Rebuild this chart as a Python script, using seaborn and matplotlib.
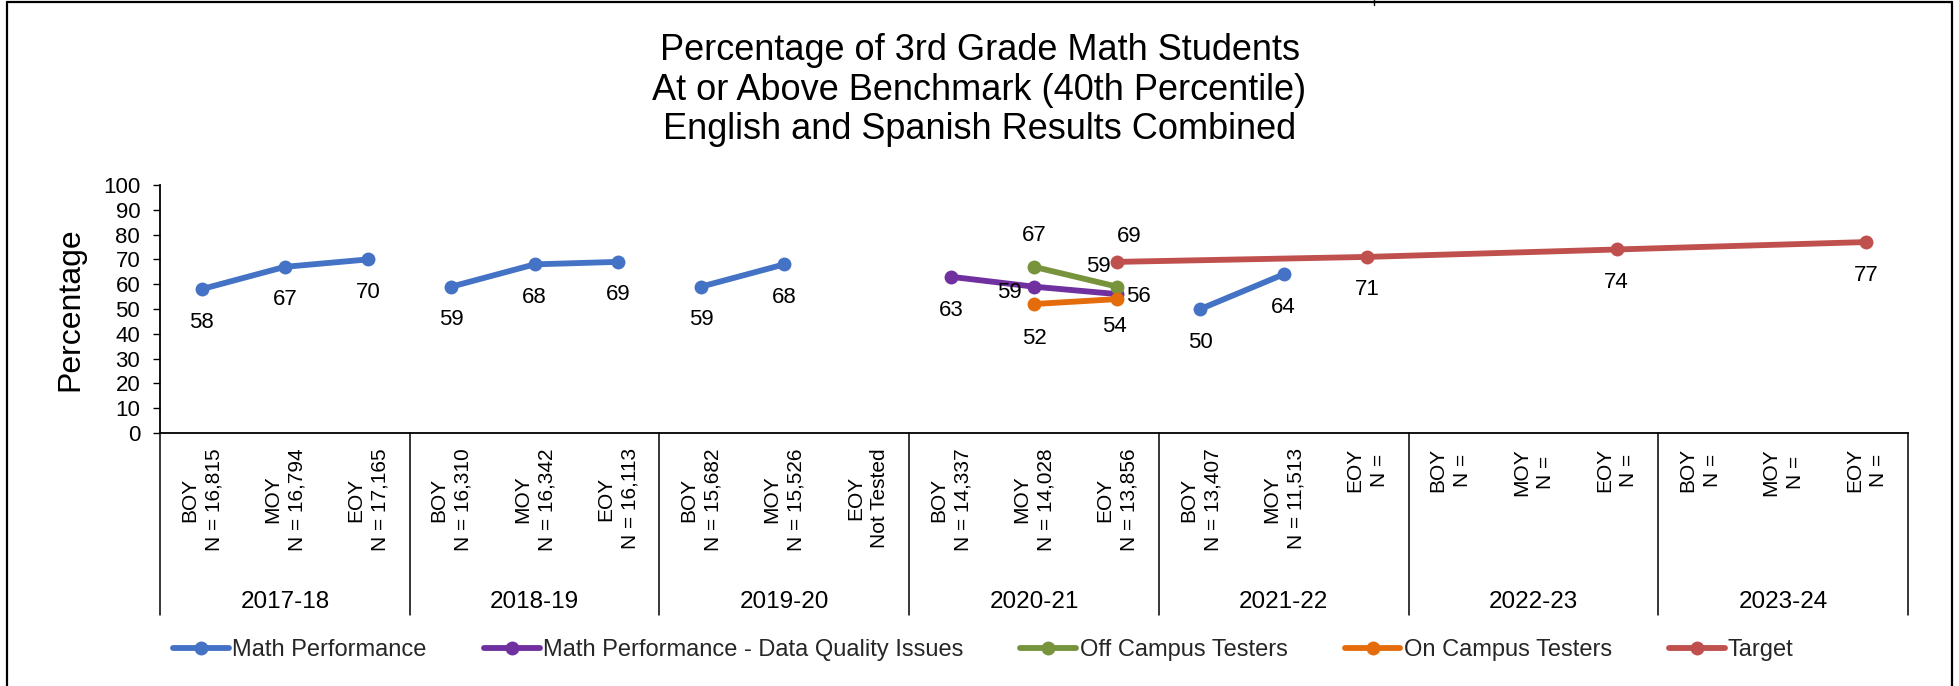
import numpy as np
import pandas as pd
import matplotlib
matplotlib.use("Agg")
import matplotlib.pyplot as plt
from matplotlib.lines import Line2D
import seaborn as sns

# ---------------- data ----------------
years = ["2017-18", "2018-19", "2019-20", "2020-21", "2021-22", "2022-23", "2023-24"]
tick_labels = [
    "BOY\nN = 16,815", "MOY\nN = 16,794", "EOY\nN = 17,165",
    "BOY\nN = 16,310", "MOY\nN = 16,342", "EOY\nN = 16,113",
    "BOY\nN = 15,682", "MOY\nN = 15,526", "EOY\nNot Tested",
    "BOY\nN = 14,337", "MOY\nN = 14,028", "EOY\nN = 13,856",
    "BOY\nN = 13,407", "MOY\nN = 11,513", "EOY\nN =",
    "BOY\nN =", "MOY\nN =", "EOY\nN =",
    "BOY\nN =", "MOY\nN =", "EOY\nN =",
]
nan = np.nan
math_perf = [58, 67, 70, 59, 68, 69, 59, 68, nan, nan, nan, nan, 50, 64, nan,
             nan, nan, nan, nan, nan, nan]
data_quality = [nan] * 9 + [63, 59, 56] + [nan] * 9
off_campus = [nan] * 10 + [67, 59] + [nan] * 9
on_campus = [nan] * 10 + [52, 54] + [nan] * 9
target = [nan] * 11 + [69, nan, nan, 71, nan, nan, 74, nan, nan, 77]

series_names = ["Math Performance", "Math Performance - Data Quality Issues",
                "Off Campus Testers", "On Campus Testers", "Target"]
series_values = [math_perf, data_quality, off_campus, on_campus, target]

# ---------------- styling ----------------
colors = ["#4472C4", "#7030A0", "#77933C", "#E46C0A", "#C0504D"]
connect_across_years = [False, False, False, False, True]
# label offsets (pixels) for each plotted point, in order of appearance
label_offsets = {
    "Math Performance": [(0, -33)] * 10,
    "Math Performance - Data Quality Issues": [(0, -34), (-25, -6), (21, -2)],
    "Off Campus Testers": [(0, 31), (-19, 20)],
    "On Campus Testers": [(0, -34), (-3, -27)],
    "Target": [(12, 25), (0, -33), (0, -33), (0, -33)],
}

rows = []
for name, vals, conn in zip(series_names, series_values, connect_across_years):
    for i, v in enumerate(vals):
        if not np.isnan(v):
            rows.append({"x": i, "value": v, "series": name,
                         "seg": 0 if conn else i // 3})
df = pd.DataFrame(rows)

sns.set_theme(style="white")
plt.rcParams["font.family"] = ["Liberation Sans", "DejaVu Sans"]

W, H = 1959, 686
fig = plt.figure(figsize=(W / 100, H / 100), dpi=100)
ax_left, ax_right, ax_top, ax_bot = 160, 1908, 185, 433
ax = fig.add_axes([ax_left / W, 1 - ax_bot / H, (ax_right - ax_left) / W, (ax_bot - ax_top) / H])

sns.lineplot(data=df, x="x", y="value", hue="series", units="seg", estimator=None,
             hue_order=series_names, palette=dict(zip(series_names, colors)),
             marker="o", markersize=10, markeredgewidth=0, linewidth=4.2,
             legend=False, sort=False, ax=ax)

# data labels
for name in series_names:
    sub = df[df["series"] == name].reset_index(drop=True)
    offs = label_offsets[name]
    for k, r in sub.iterrows():
        dx, dy = offs[k]
        ax.annotate(f"{int(r['value'])}", (r["x"], r["value"]), xytext=(dx, dy),
                    textcoords="offset pixels", ha="center", va="center",
                    fontsize=16, color="black")

n = len(tick_labels)
ax.set_xlim(-0.5, n - 0.5)
ax.set_ylim(0, 100)
ax.set_yticks(np.arange(0, 101, 10))
ax.tick_params(axis="y", labelsize=16, length=5.3, width=1, direction="out",
               left=True, color="black", pad=9, labelcolor="black")
ax.set_xticks(range(n))
ax.set_xticklabels(tick_labels, rotation=90, fontsize=15, ha="center", va="top",
                   multialignment="center", linespacing=1.35)
ax.tick_params(axis="x", length=0, pad=11, labelcolor="black")
ax.set_xlabel("")
ax.set_ylabel("Percentage", fontsize=23, color="black")
ax.yaxis.set_label_coords((85 - ax_left) / (ax_right - ax_left), 0.5)

for s in ["top", "right"]:
    ax.spines[s].set_visible(False)
for s in ["left", "bottom"]:
    ax.spines[s].set_color("black")
    ax.spines[s].set_linewidth(1.3)

# group separators and year labels
trans = ax.get_xaxis_transform()
sep_bottom = (ax_bot - 615) / (ax_bot - ax_top)
lab_y = (ax_bot - 602) / (ax_bot - ax_top)
for g in range(len(years) + 1):
    xb = g * 3 - 0.5
    ax.plot([xb, xb], [0, sep_bottom], transform=trans, color="black",
            linewidth=1.1, clip_on=False)
for g, yr in enumerate(years):
    ax.text(g * 3 + 1, lab_y, yr, transform=trans, ha="center", va="center",
            fontsize=17.5, color="black")

# title
fig.text(0.5, 1 - 90 / H, "Percentage of 3rd Grade Math Students\n"
         "At or Above Benchmark (40th Percentile)\nEnglish and Spanish Results Combined",
         ha="center", va="center", fontsize=26, linespacing=1.15, color="black")

# legend
handles = [Line2D([0], [0], color=c, linewidth=4.2, marker="o", markersize=10,
                  markeredgewidth=0) for c in colors]
fig.legend(handles, series_names, loc="center", bbox_to_anchor=(983.5 / W, 1 - 650 / H),
           ncol=5, frameon=False, fontsize=17, handlelength=2.37, handletextpad=0.13,
           columnspacing=2.42, borderaxespad=0, borderpad=0)

# outer border (top, left, right)
lw = 1.6
fig.add_artist(Line2D([6.5 / W, 1952 / W], [1 - 1.5 / H, 1 - 1.5 / H], color="black", linewidth=lw))
fig.add_artist(Line2D([6.5 / W, 6.5 / W], [0, 1 - 1.5 / H], color="black", linewidth=lw))
fig.add_artist(Line2D([1952 / W, 1952 / W], [0, 1 - 1.5 / H], color="black", linewidth=lw))
fig.add_artist(Line2D([1374 / W, 1374 / W], [1, 1 - 5 / H], color="black", linewidth=1))

fig.savefig("out.png", dpi=100, facecolor="white")
